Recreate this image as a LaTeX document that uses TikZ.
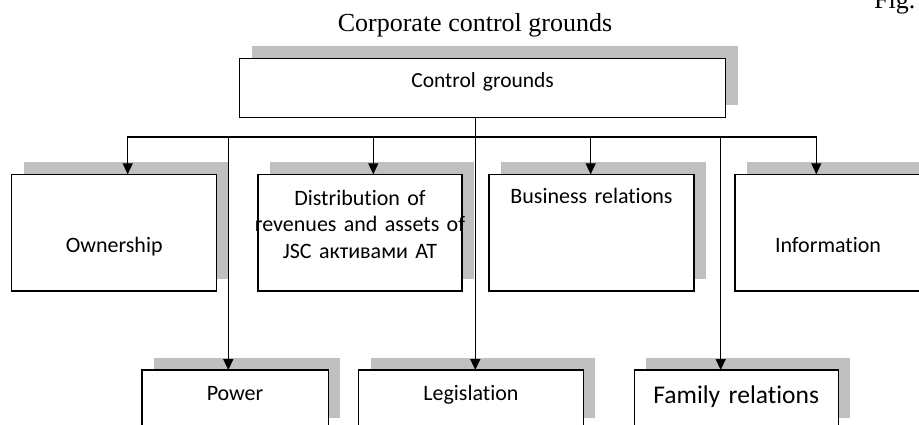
\documentclass[tikz,border=0pt]{standalone}
\usepackage{fontspec}
\setmainfont[Ligatures=NoCommon]{Carlito}
\newfontfamily\tnr{Liberation Serif}
\usetikzlibrary{arrows.meta,shadows}
\definecolor{shadowgray}{RGB}{192,192,192}
\begin{document}
\begin{tikzpicture}[x=1pt,y=-1pt,
  box/.style={draw=black, line width=1.4pt, fill=white, inner xsep=0pt, inner ysep=0pt,
     outer sep=0pt, anchor=north west, align=center,
     drop shadow={shadow xshift=12pt, shadow yshift=12pt, fill=shadowgray, opacity=1},
     font=\fontsize{22}{26.7}\selectfont},
  link/.style={line width=1.4pt, draw=black},
  arr/.style={link, -{Triangle[length=11pt,width=10pt]}},
  dblarr/.style={link, {Triangle[length=11pt,width=10pt]}-{Triangle[length=11pt,width=10pt]}},
  caption/.style={font=\tnr\fontsize{26}{30}\selectfont, inner sep=0pt}
]
\useasboundingbox (0,0) rectangle (919,425);

\node[caption, anchor=base] (title) at (475,31.7) {Corporate control grounds};
\node[caption, anchor=base west] (fig) at (874,9) {Fig.};

\node[box, text width=486pt, text height=29pt, text depth=30pt,
      font=\fontsize{21.5}{26}\selectfont] (ctrl) at (239.6,58.3) {Control grounds};

\node[box, text width=205pt, text height=78.2pt, text depth=38.5pt] (own) at (11.7,174.3) {Ownership};
\node[box, text width=204pt, text height=30.7pt, text depth=86pt] (dist) at (258,174.3)
  {\makebox[\linewidth][c]{Distribution of}\\\makebox[\linewidth][c]{revenues and assets of}\\\makebox[\linewidth][c]{JSC активами AT}};
\node[box, text width=205pt, text height=29.7pt, text depth=87pt] (bus) at (489,174.3) {Business relations};
\node[box, text width=186pt, text height=77.7pt, text depth=39pt] (info) at (735,174.3) {Information};

\node[box, text width=186.5pt, text height=30pt, text depth=30pt] (pow) at (141.8,370) {Power};
\node[box, text width=224.5pt, text height=30pt, text depth=30pt] (leg) at (358.7,370) {Legislation};
\node[box, text width=204pt, text height=33pt, text depth=27pt,
      font=\fontsize{25.5}{30}\selectfont] (fam) at (634.2,370) {Family relations};

\coordinate (b1) at (127.7,137);
\coordinate (b2) at (228.3,137);
\coordinate (b3) at (373.3,137);
\coordinate (bt) at (475.3,137);
\coordinate (b4) at (590.7,137);
\coordinate (b5) at (720.7,137);
\coordinate (b6) at (816.3,137);

\draw[dblarr] (b1 |- own.north) -- (b1) -- (b6) -- (b6 |- info.north);
\draw[arr] (b2) -- (b2 |- pow.north);
\draw[arr] (b3) -- (b3 |- dist.north);
\draw[arr] (bt |- ctrl.south) -- (bt |- leg.north);
\draw[arr] (b4) -- (b4 |- bus.north);
\draw[arr] (b5) -- (b5 |- fam.north);
\end{tikzpicture}
\end{document}
